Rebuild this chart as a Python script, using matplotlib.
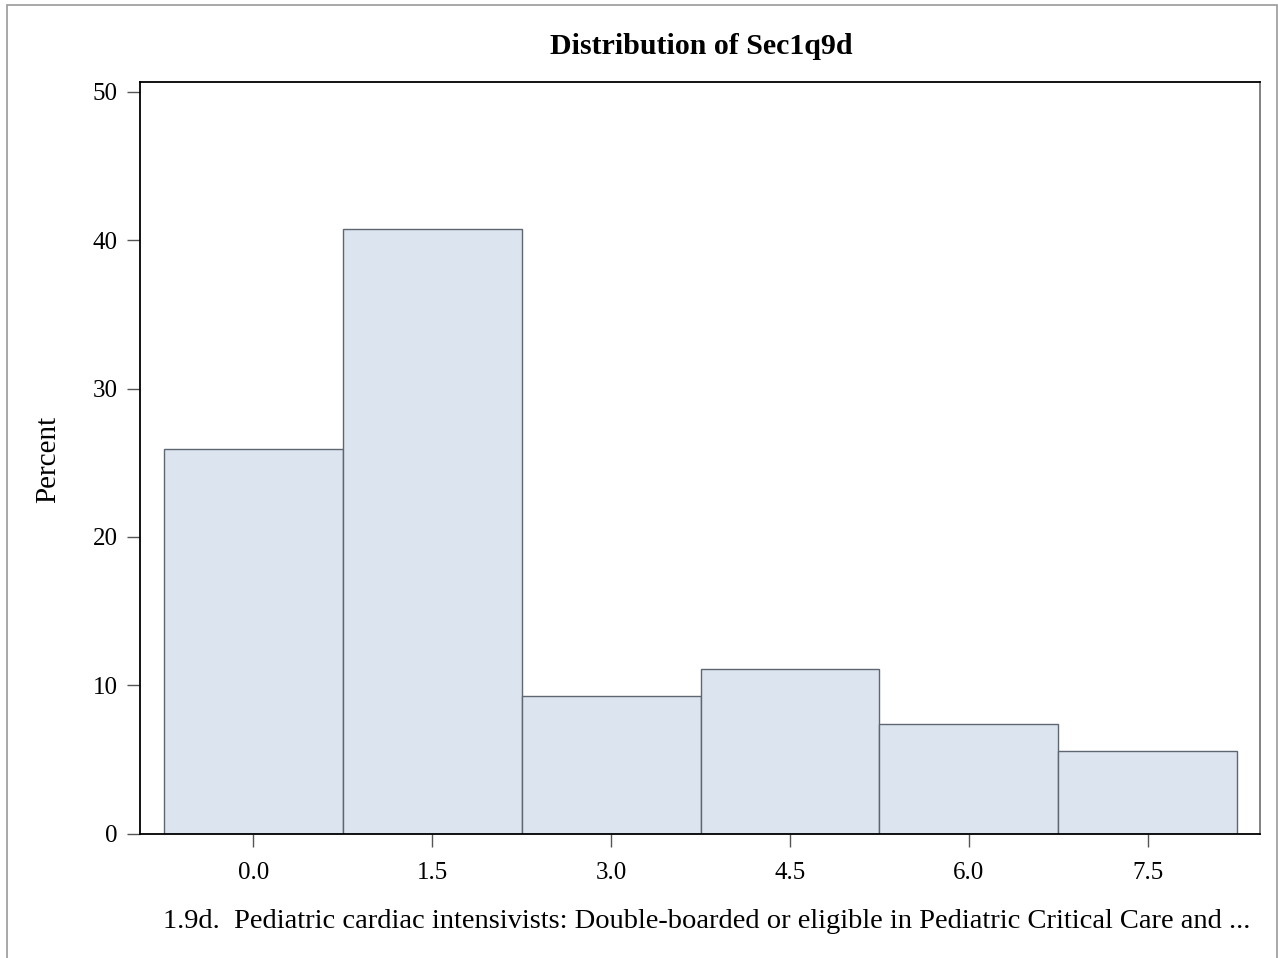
import numpy as np
import matplotlib
matplotlib.use("Agg")
import matplotlib.pyplot as plt
from matplotlib.patches import Rectangle

# Histogram data (bin midpoints and percent of observations)
bin_mids = [0.0, 1.5, 3.0, 4.5, 6.0, 7.5]
percents = [25.93, 40.74, 9.26, 11.11, 7.41, 5.56]
bin_width = 1.5
x_ticks = [0.0, 1.5, 3.0, 4.5, 6.0, 7.5]
x_ticklabels = ["0.0", "1.5", "3.0", "4.5", "6.0", "7.5"]
y_ticks = [0, 10, 20, 30, 40, 50]

title = "Distribution of Sec1q9d"
x_label = "1.9d.  Pediatric cardiac intensivists: Double-boarded or eligible in Pediatric Critical Care and ..."
y_label = "Percent"

plt.rcParams['font.family'] = ['Liberation Serif', 'DejaVu Serif']

fig = plt.figure(figsize=(12.78, 9.58), dpi=100)
ax = fig.add_axes([139.5 / 1278, 1 - 833.5 / 958, (1260 - 139.5) / 1278, (833.5 - 81.5) / 958])

ax.bar(bin_mids, percents, width=bin_width, color='#dce4f0',
       edgecolor='#5e6673', linewidth=1.0, zorder=2)

ax.set_xlim(-0.953, 8.44)
ax.set_ylim(0, 50.7)
ax.set_xticks(x_ticks)
ax.set_xticklabels(x_ticklabels)
ax.set_yticks(y_ticks)

ax.tick_params(axis='both', direction='out', length=9.5, width=1.0,
               color='#555555', labelsize=18, pad=6)
ax.tick_params(axis='x', pad=11)

for side in ['left', 'bottom', 'top']:
    ax.spines[side].set_color('black')
    ax.spines[side].set_linewidth(1.3)
ax.spines['right'].set_color('#777777')
ax.spines['right'].set_linewidth(1.3)

fig.text(701 / 1278, 1 - 47 / 958, title, ha='center', va='center',
         fontsize=21.5, fontweight='bold')
fig.text(48 / 1278, 1 - 459 / 958, y_label, ha='center', va='center',
         rotation=90, fontsize=21)
fig.text(707 / 1278, 1 - 921 / 958, x_label, ha='center', va='center',
         fontsize=20.5)

# Outer gray frame of the image
fig.patches.append(Rectangle((6.5 / 1278, -0.05), (1276.5 - 6.5) / 1278, 1.05 - 5.5 / 958,
                             transform=fig.transFigure, fill=False,
                             edgecolor='#999999', linewidth=1.2))

plt.savefig("out.png", dpi=100)
